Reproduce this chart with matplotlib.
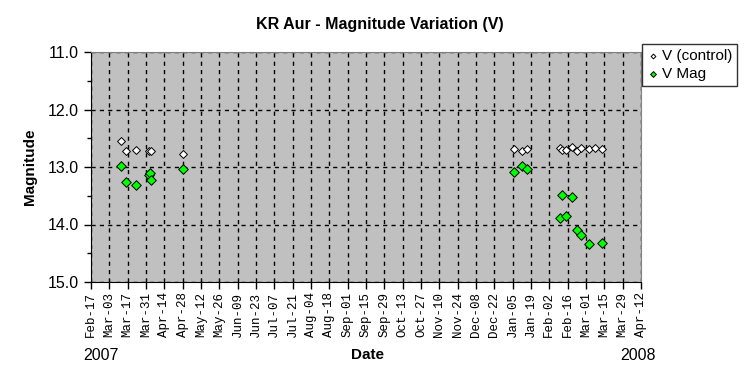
import matplotlib
matplotlib.use("Agg")
import matplotlib.pyplot as plt
import numpy as np
import datetime as dt

ctrl_dates = ["2007-03-12", "2007-03-16", "2007-03-23", "2007-04-02", "2007-04-04", "2007-04-28",
              "2008-01-06", "2008-01-12", "2008-01-16", "2008-02-10", "2008-02-12", "2008-02-15",
              "2008-02-19", "2008-02-23", "2008-02-26", "2008-03-03", "2008-03-08", "2008-03-13"]
ctrl_mag = [12.54, 12.72, 12.70, 12.73, 12.73, 12.77,
            12.69, 12.73, 12.69, 12.67, 12.70, 12.70,
            12.66, 12.72, 12.67, 12.69, 12.67, 12.69]

v_dates = ["2007-03-12", "2007-03-16", "2007-03-23", "2007-04-02", "2007-04-03", "2007-04-04", "2007-04-28",
           "2008-01-06", "2008-01-12", "2008-01-16", "2008-02-10", "2008-02-12", "2008-02-15",
           "2008-02-19", "2008-02-23", "2008-02-26", "2008-03-03", "2008-03-13"]
v_mag = [12.98, 13.26, 13.31, 13.14, 13.10, 13.23, 13.03,
         13.08, 12.98, 13.03, 13.88, 13.48, 13.86,
         13.52, 14.10, 14.18, 14.34, 14.32]

x_start = "2007-02-17"
x_end = "2008-04-12"
tick_step_days = 14
y_min, y_max = 11.0, 15.0

plt.rcParams['font.family'] = ['Liberation Sans', 'DejaVu Sans']

def todate(s):
    return dt.datetime.strptime(s, "%Y-%m-%d")

fig = plt.figure(figsize=(7.5, 3.84), dpi=100)
ax = fig.add_axes([91/750, 1-282/384, 550/750, 230/384])
ax.set_facecolor('#c0c0c0')

xs = todate(x_start)
xe = todate(x_end)
ticks = []
d = xs
while d <= xe:
    ticks.append(d)
    d += dt.timedelta(days=tick_step_days)

ax.scatter([todate(s) for s in ctrl_dates], ctrl_mag, marker='D', s=16, facecolor='white',
           edgecolor='black', linewidth=0.7, zorder=3, label='V (control)')
ax.scatter([todate(s) for s in v_dates], v_mag, marker='D', s=24, facecolor='#00ff00',
           edgecolor='black', linewidth=0.7, zorder=3, label='V Mag')

ax.set_xlim(xs, xe)
ax.set_ylim(y_max, y_min)
ax.set_xticks(ticks)
ax.set_xticklabels([t.strftime("%b-%d") for t in ticks], rotation=90,
                   family='Liberation Mono', fontsize=9)
ax.set_yticks(np.arange(11, 15.01, 1.0))
ax.set_yticklabels([f"{v:.1f}" for v in np.arange(11, 15.01, 1.0)], fontsize=11.5)
ax.set_yticks(np.arange(11, 15.01, 0.5), minor=True)
ax.tick_params(axis='both', which='major', direction='out', length=5, width=1, color='black')
ax.tick_params(axis='y', which='minor', direction='out', length=3, width=1)
ax.tick_params(axis='x', pad=2)

ax.grid(True, which='major', axis='both', color='black', linestyle=(0, (3, 3)), linewidth=1)
ax.set_axisbelow(True)
for sp in ['top', 'right']:
    ax.spines[sp].set_color('#808080')
for sp in ['left', 'bottom']:
    ax.spines[sp].set_color('black')

fig.text(0.507, 1-25/384, "KR Aur - Magnitude Variation (V)", ha='center', va='center',
         fontsize=11.5, fontweight='bold')
fig.text(367/750, 1-355/384, "Date", ha='center', va='center', fontsize=11, fontweight='bold')
fig.text(30/750, 1-167/384, "Magnitude", ha='center', va='center', rotation=90,
         fontsize=11, fontweight='bold')
fig.text(83/750, 1-355/384, "2007", ha='left', va='center', fontsize=11.5)
fig.text(656/750, 1-355/384, "2008", ha='right', va='center', fontsize=11.5)

leg = ax.legend(loc='upper left', bbox_to_anchor=(642/750, 1-44/384), bbox_transform=fig.transFigure,
                frameon=True, fancybox=False, shadow=False, fontsize=11, handletextpad=0.2,
                borderpad=0.3, labelspacing=0.3, handlelength=0.8, borderaxespad=0, markerscale=0.6)
leg.get_frame().set_edgecolor('black')
leg.get_frame().set_linewidth(1)

fig.savefig("out.png", dpi=100)
